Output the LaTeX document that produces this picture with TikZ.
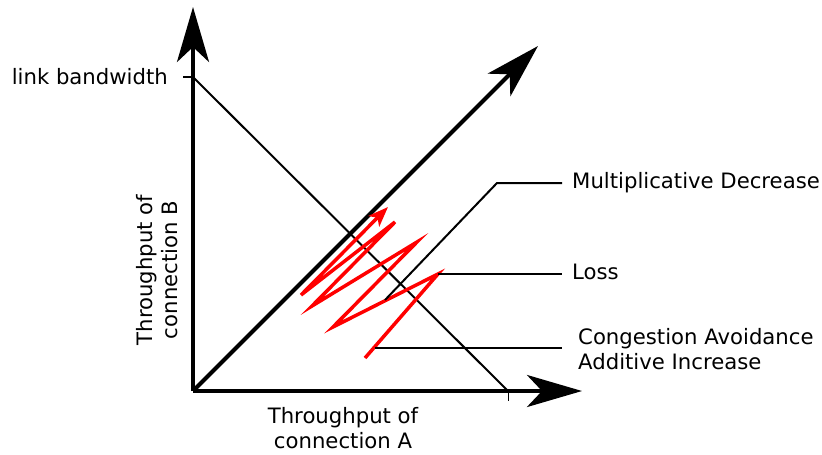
\documentclass[tikz,border=0pt]{standalone}
\usepackage{fontspec}
\setmainfont{DejaVu Sans}
\usetikzlibrary{arrows.meta}
\definecolor{aimdred}{RGB}{255,0,0}
\tikzset{
  axis/.style={line width=4pt, -{Stealth[length=55pt,width=32pt,inset=15pt]}},
  leader/.style={line width=2pt},
  lbl/.style={inner sep=0pt, font=\fontsize{21.2}{25}\selectfont},
}

\begin{document}
\begin{tikzpicture}[x=1pt, y=-1pt]
    \useasboundingbox (0,0) rectangle (822,455);

    % Axes and the equal share line
    \coordinate (O) at (193,391);
    \coordinate (ytip) at (193,7);
    \coordinate (xtip) at (582,391);
    \coordinate (dtip) at (538,46);
    \draw[axis] (O) -- (ytip);
    \draw[axis] (O) -- (xtip);
    \draw[axis] (O) -- (dtip);

    % Full link line with its ticks
    \coordinate (bwB) at (193,77);
    \coordinate (bwA) at (508,391);
    \draw[line width=2pt] (bwB) -- (bwA);
    \draw[line width=2pt] (bwB) -- ++(-10,0);
    \draw[line width=1pt] (bwA) -- ++(0,10);

    % AIMD path
    \coordinate (z0) at (365,358);
    \coordinate (z1) at (438,274);
    \coordinate (z2) at (333,327);
    \coordinate (z3) at (417,242);
    \coordinate (z4) at (312,306);
    \coordinate (z5) at (395,222);
    \coordinate (z6) at (301,295);
    \coordinate (z7) at (388,207);
    \draw[aimdred, line width=3.5pt, line join=miter,
          -{Stealth[length=20pt,width=15pt,inset=5pt]}]
        (z0) -- (z1) -- (z2) -- (z3) -- (z4) -- (z5) -- (z6) -- (z7);

    % Labels
    \node[lbl, anchor=east] (bw) at (168,77) {link bandwidth};
    \node[lbl, rotate=90, align=center] (ylab) at (157,270) {Throughput of\\connection B};
    \node[lbl, align=center] (xlab) at (343,428) {Throughput of\\connection A};
    \node[lbl, anchor=west] (md) at (572,183) {Multiplicative Decrease};
    \node[lbl, anchor=west] (loss) at (572,272) {Loss};
    \node[lbl, anchor=west, align=left] (ca) at (578,349) {Congestion Avoidance\\Additive Increase};

    % Leaders
    \coordinate (mdpt) at (385,300);
    \coordinate (capt) at (375,348);
    \draw[leader] (mdpt) -- (497,183) -- ([xshift=-10pt]md.west |- 0,183);
    \draw[leader] (z1) -- ([xshift=-10pt]loss.west |- 0,274);
    \draw[leader] (capt) -- ([xshift=-16pt]ca.west |- 0,348);
\end{tikzpicture}
\end{document}
